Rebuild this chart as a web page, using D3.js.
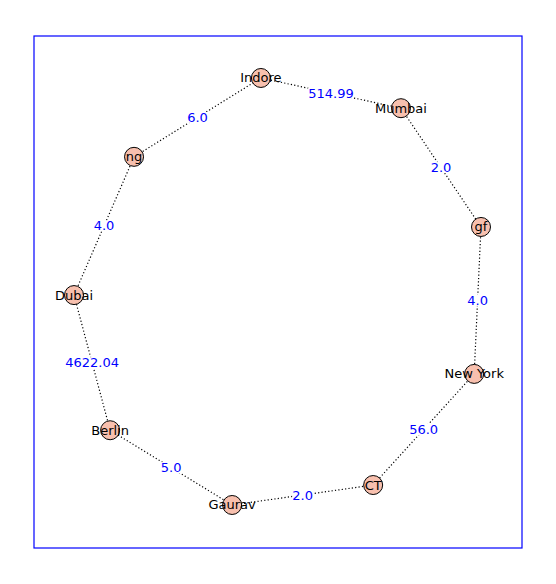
<!DOCTYPE html>
<html><head><meta charset="utf-8">
<script src="https://cdn.jsdelivr.net/npm/d3@7"></script>
<style>body{margin:0;background:#fff}</style></head>
<body><svg id="c" width="556" height="584"></svg>
<script>
const nodes = ["Indore","Mumbai","gf","New York","CT","Gaurav","Berlin","Dubai","ng"];
const nodeX = [0.465,0.752,0.916,0.902,0.695,0.406,0.156,0.082,0.205];
const nodeY = [0.918,0.859,0.627,0.340,0.123,0.084,0.230,0.494,0.764];
const edgeSource = ["Indore","Mumbai","gf","New York","CT","Gaurav","Berlin","Dubai","ng"];
const edgeTarget = ["Mumbai","gf","New York","CT","Gaurav","Berlin","Dubai","ng","Indore"];
const edgeLabels = ["514.99","2.0","4.0","56.0","2.0","5.0","4622.04","4.0","6.0"];

const svg = d3.select("#c");
const x = d3.scaleLinear().domain([0,1]).range([34,522]);
const y = d3.scaleLinear().domain([0,1]).range([548,36]);
const pos = {};
nodes.forEach((n,i)=>pos[n]=[x(nodeX[i]),y(nodeY[i])]);

svg.append("rect").attr("x",34).attr("y",36).attr("width",488).attr("height",512)
  .attr("fill","none").attr("stroke","blue").attr("stroke-width",1.2);

const edges = edgeSource.map((s,i)=>({s,t:edgeTarget[i],l:edgeLabels[i]}));
svg.selectAll("line.e").data(edges).join("line")
  .attr("x1",d=>pos[d.s][0]).attr("y1",d=>pos[d.s][1])
  .attr("x2",d=>pos[d.t][0]).attr("y2",d=>pos[d.t][1])
  .attr("stroke","#000").attr("stroke-width",1.2).attr("stroke-dasharray","1.2,2.2");

svg.selectAll("circle").data(nodes).join("circle")
  .attr("cx",d=>pos[d][0]).attr("cy",d=>pos[d][1]).attr("r",9.5)
  .attr("fill","#f8c0ae").attr("stroke","#000").attr("stroke-width",1);

const font = "DejaVu Sans, sans-serif";
edges.forEach(d=>{
  const mx=(pos[d.s][0]+pos[d.t][0])/2, my=(pos[d.s][1]+pos[d.t][1])/2;
  const g=svg.append("g");
  const t=g.append("text").attr("x",mx).attr("y",my).attr("text-anchor","middle")
    .attr("dominant-baseline","central").attr("font-family",font).attr("font-size",13)
    .attr("fill","blue").text(d.l);
  const b=t.node().getBBox();
  g.insert("rect","text").attr("x",b.x).attr("y",b.y+2).attr("width",b.width).attr("height",b.height-4).attr("fill","#fff");
});

svg.selectAll("text.n").data(nodes).join("text").attr("class","n")
  .attr("x",d=>pos[d][0]).attr("y",d=>pos[d][1]).attr("text-anchor","middle")
  .attr("dominant-baseline","central").attr("font-family",font).attr("font-size",13)
  .attr("fill","#000").text(d=>d);
</script></body></html>
